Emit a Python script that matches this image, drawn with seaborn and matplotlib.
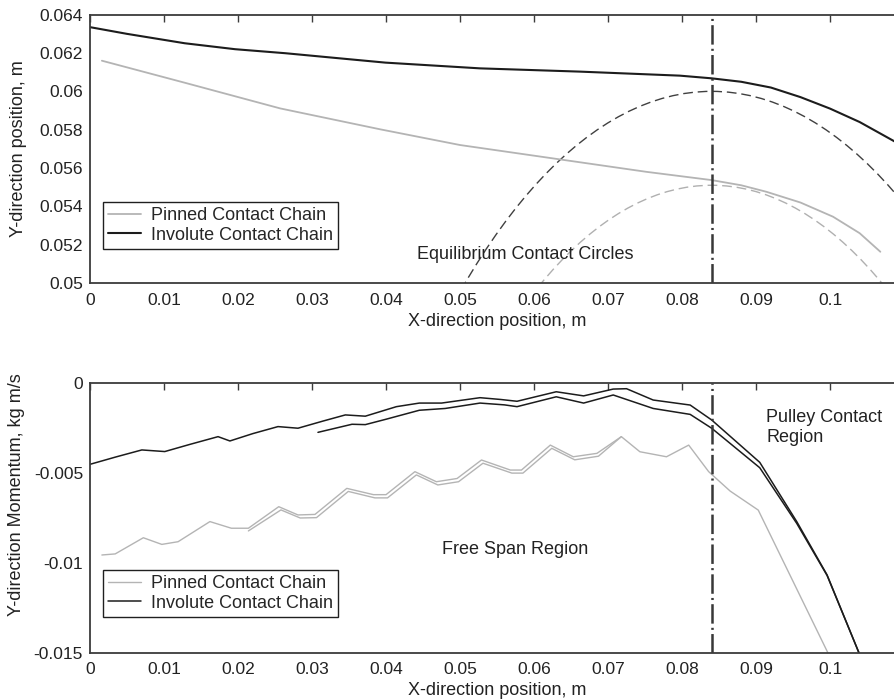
import matplotlib
matplotlib.use("Agg")
import matplotlib.pyplot as plt
import seaborn as sns
from matplotlib.patches import Circle

# ---- data ----
# top: Y-direction position of the chain
top_inv_x = [0.0, 0.005, 0.0128, 0.0196, 0.0264, 0.033, 0.0399, 0.0527, 0.0662, 0.0797,
             0.084, 0.088, 0.092, 0.096, 0.100, 0.104, 0.1088, 0.110]
top_inv_y = [0.06335, 0.0630, 0.06251, 0.0622, 0.06199, 0.06175, 0.0615, 0.0612, 0.06103, 0.06082,
             0.06068, 0.0605, 0.0602, 0.0597, 0.0591, 0.0584, 0.05737, 0.0571]

top_pin_x = [0.0016, 0.0128, 0.0257, 0.0392, 0.050, 0.0635, 0.0752, 0.084, 0.088, 0.0914,
             0.096, 0.1004, 0.104, 0.1068]
top_pin_y = [0.0616, 0.06045, 0.05911, 0.05802, 0.0572, 0.05645, 0.0558, 0.05537, 0.0551, 0.05476,
             0.0542, 0.05346, 0.0526, 0.05163]

# equilibrium contact circles: centre x, centre y, radius
circ_dark = (0.084, -0.0005, 0.0605)
circ_light = (0.084, 0.0007, 0.0544)
x_contact = 0.084

# bottom: Y-direction momentum
bot_invA_x = [0.0, 0.0035, 0.007, 0.0101, 0.0135, 0.0173, 0.0189, 0.022, 0.0254, 0.0281, 0.0315,
              0.0345, 0.0372, 0.0414, 0.0445, 0.0475, 0.0527, 0.0555, 0.0577, 0.063, 0.0667,
              0.0707, 0.0725, 0.0761, 0.0811, 0.084, 0.0905, 0.0955, 0.0996, 0.1039]
bot_invA_y = [-0.00451, -0.0041, -0.00371, -0.0038, -0.0034, -0.00297, -0.00321, -0.0028, -0.00241,
              -0.0025, -0.0021, -0.00176, -0.00183, -0.0013, -0.0011, -0.0011, -0.0008, -0.0009,
              -0.0010, -0.00047, -0.0007, -0.00032, -0.0003, -0.00093, -0.00121, -0.00204,
              -0.0044, -0.0077, -0.01067, -0.015]

bot_invB_x = [0.0308, 0.0354, 0.0372, 0.040, 0.0445, 0.048, 0.0527, 0.056, 0.0577, 0.063, 0.0667,
              0.0707, 0.0761, 0.0811, 0.084, 0.0905, 0.0955, 0.0996, 0.1039]
bot_invB_y = [-0.00273, -0.00228, -0.0023, -0.0020, -0.0015, -0.0014, -0.0011, -0.0012, -0.0013,
              -0.00075, -0.0011, -0.00065, -0.0014, -0.00173, -0.0025, -0.0047, -0.0078, -0.0107, -0.015]

bot_pinA_x = [0.0016, 0.0034, 0.0072, 0.0097, 0.0119, 0.0162, 0.0191, 0.0214, 0.0255, 0.0281,
              0.0304, 0.0347, 0.0383, 0.040, 0.0439, 0.0468, 0.0496, 0.0529, 0.0568, 0.0583,
              0.0622, 0.0653, 0.0685, 0.0718, 0.0743, 0.0779, 0.0809, 0.0836, 0.0865, 0.0903, 0.0997]
bot_pinA_y = [-0.00956, -0.0095, -0.0086, -0.00897, -0.00882, -0.0077, -0.00807, -0.00807, -0.00687,
              -0.00733, -0.0073, -0.00585, -0.0062, -0.0062, -0.00492, -0.00548, -0.0053, -0.00427,
              -0.00483, -0.00483, -0.00344, -0.00409, -0.0039, -0.00297, -0.00381, -0.00409,
              -0.00344, -0.00492, -0.006, -0.00706, -0.015]

bot_pinB_x = [0.0214, 0.0258, 0.0284, 0.0306, 0.0349, 0.0385, 0.0402, 0.0441, 0.047, 0.0498,
              0.0531, 0.057, 0.0585, 0.0624, 0.0655, 0.0687, 0.0718]
bot_pinB_y = [-0.00822, -0.00705, -0.0075, -0.00748, -0.00602, -0.00638, -0.00638, -0.0051,
              -0.00566, -0.00548, -0.00445, -0.005, -0.005, -0.00362, -0.00426, -0.00406, -0.00297]

x_ticks = [0, 0.01, 0.02, 0.03, 0.04, 0.05, 0.06, 0.07, 0.08, 0.09, 0.1]
top_yticks = [0.05, 0.052, 0.054, 0.056, 0.058, 0.06, 0.062, 0.064]
bot_yticks = [-0.015, -0.01, -0.005, 0]

# ---- style ----
sns.set_style("white")
plt.rcParams["font.family"] = ["Liberation Sans", "DejaVu Sans"]
plt.rcParams["lines.scale_dashes"] = False

dark = "#1c1c1c"
light = "#b4b4b4"
axcol = "#3c3c3c"
txt = "#222222"
fs = 13
fs_tick = 12.5

fig = plt.figure(figsize=(8.95, 7), dpi=100)
ax1 = fig.add_axes([0.1006, 0.5957, 0.9095, 0.3833])
ax2 = fig.add_axes([0.1006, 0.0676, 0.9095, 0.3848])


def style_axes(ax, yticks, ylim):
    ax.set_xlim(0, 0.11)
    ax.set_ylim(*ylim)
    ax.set_xticks(x_ticks)
    ax.set_xticklabels(["%g" % v for v in x_ticks])
    ax.set_yticks(yticks)
    ax.set_yticklabels(["%g" % v for v in yticks])
    ax.tick_params(direction="in", length=5, width=1, colors=axcol, labelcolor=txt,
                   labelsize=fs_tick, top=True, right=True, pad=7)
    ax.tick_params(axis="y", pad=5)
    for s in ax.spines.values():
        s.set_color(axcol)
        s.set_linewidth(1.3)
    ax.set_xlabel("X-direction position, m", fontsize=fs, color=txt)
    ax.xaxis.set_label_coords(0.5, -0.11)


# top panel
sns.lineplot(x=top_pin_x, y=top_pin_y, ax=ax1, color=light, lw=1.3, sort=False,
             estimator=None, label="Pinned Contact Chain")
sns.lineplot(x=top_inv_x, y=top_inv_y, ax=ax1, color=dark, lw=1.5, sort=False,
             estimator=None, label="Involute Contact Chain")
for (cx, cy, r), c in [(circ_dark, "#404040"), (circ_light, "#b0b0b0")]:
    ax1.add_patch(Circle((cx, cy), r, fill=False, ec=c, lw=1.0, ls=(0, (7, 3.5))))
ax1.axvline(x_contact, color="#383838", lw=1.8, ls=(0, (14, 3, 1.5, 3)))
ax1.text(0.0588, 0.0515, "Equilibrium Contact Circles", ha="center", va="center",
         fontsize=fs, color=txt)
style_axes(ax1, top_yticks, (0.05, 0.064))
ax1.set_ylabel("Y-direction position, m", fontsize=fs, color=txt)
ax1.yaxis.set_label_coords(-0.077, 0.5)

# bottom panel
sns.lineplot(x=bot_pinA_x, y=bot_pinA_y, ax=ax2, color=light, lw=1.0, sort=False,
             estimator=None, label="Pinned Contact Chain")
sns.lineplot(x=bot_pinB_x, y=bot_pinB_y, ax=ax2, color=light, lw=1.0, sort=False,
             estimator=None)
sns.lineplot(x=bot_invA_x, y=bot_invA_y, ax=ax2, color=dark, lw=1.1, sort=False,
             estimator=None, label="Involute Contact Chain")
sns.lineplot(x=bot_invB_x, y=bot_invB_y, ax=ax2, color=dark, lw=1.1, sort=False,
             estimator=None)
ax2.axvline(x_contact, color="#383838", lw=1.8, ls=(0, (14, 3, 1.5, 3)))
ax2.text(0.0575, -0.00928, "Free Span Region", ha="center", va="center",
         fontsize=fs, color=txt)
ax2.text(0.0914, -0.00245, "Pulley Contact\nRegion", ha="left", va="center",
         fontsize=fs, color=txt, linespacing=1.2)
style_axes(ax2, bot_yticks, (-0.015, 0))
ax2.set_ylabel("Y-direction Momentum, kg m/s", fontsize=fs, color=txt)
ax2.yaxis.set_label_coords(-0.080, 0.585)

for ax, yb in [(ax1, 0.302), (ax2, 0.307)]:
    leg = ax.legend(loc="upper left", bbox_to_anchor=(0.016, yb), borderaxespad=0,
                    fontsize=fs, handlelength=1.8, handletextpad=0.55,
                    labelspacing=0.12, borderpad=0.3, fancybox=False, framealpha=1)
    leg.get_frame().set_edgecolor("#202020")
    leg.get_frame().set_linewidth(1.0)

fig.savefig("out.png", dpi=100)
